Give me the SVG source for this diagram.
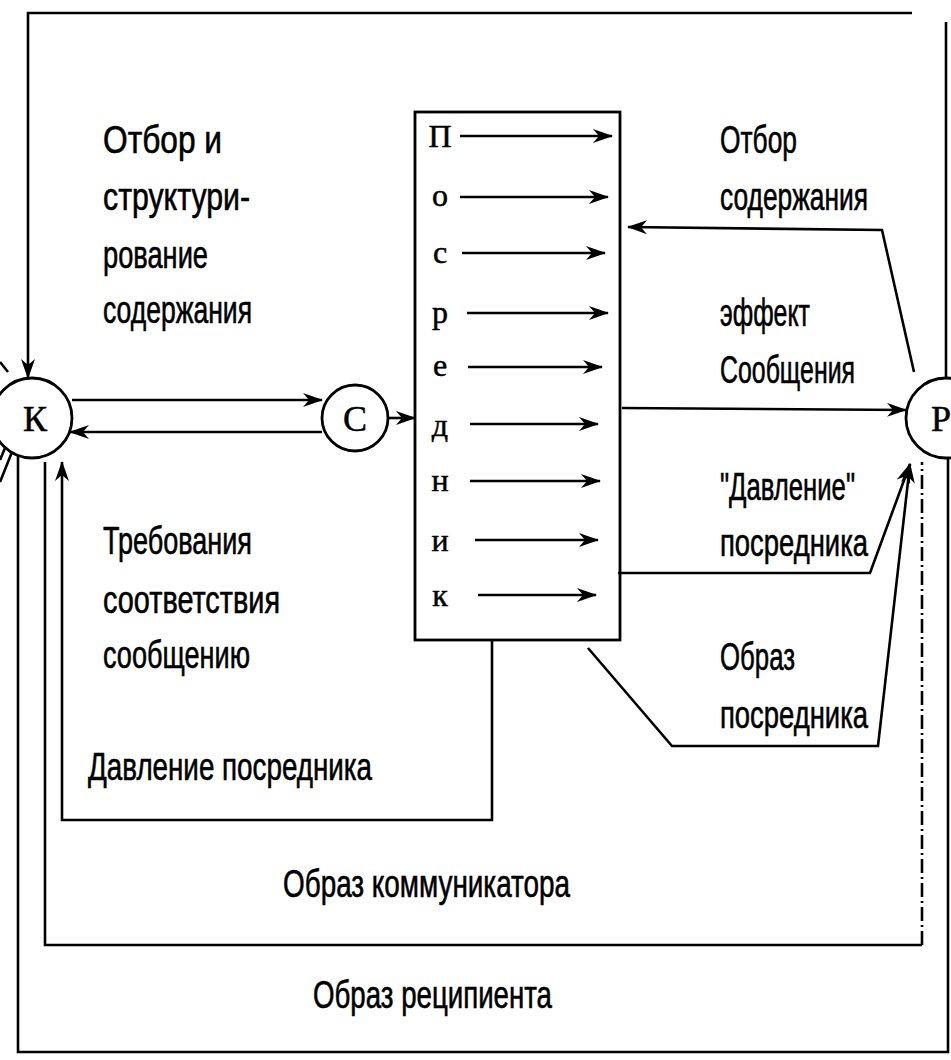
<svg xmlns="http://www.w3.org/2000/svg" width="951" height="1060" viewBox="0 0 951 1060">
<style>
  .ln{fill:none;stroke:#000;stroke-width:2.6;stroke-linejoin:miter}
  .nd{fill:#fff;stroke:#000;stroke-width:2.8}
  .t{font-family:"Liberation Sans","DejaVu Sans",sans-serif;font-size:38px;fill:#000;stroke:#000;stroke-width:0.6}
  .bl{font-family:"Liberation Serif","DejaVu Serif",serif;font-size:32px;fill:#000;text-anchor:middle;stroke:#000;stroke-width:0.5}
  .cl{font-family:"Liberation Serif","DejaVu Serif",serif;font-size:36px;fill:#000;text-anchor:middle;stroke:#000;stroke-width:0.5}
  .dd{stroke-dasharray:14,4,2,4}
</style>
<defs>
  <marker id="ah" markerWidth="20" markerHeight="14" refX="19" refY="7" orient="auto" markerUnits="userSpaceOnUse">
    <path d="M0,0 L20,7 L0,14 L6,7 z" fill="#000"/>
  </marker>
</defs>
<rect width="951" height="1060" fill="#fff"/>

<g id="connectors">
  <path class="ln" d="M912,13 L28,13 L28,378" marker-end="url(#ah)"/>
  <path class="ln" d="M946,22 L946,378"/>
  <path class="ln" d="M72,400 L322,400" marker-end="url(#ah)"/>
  <path class="ln" d="M322,432 L70,432" marker-end="url(#ah)"/>
  <path class="ln" d="M389,418 L415,418" marker-end="url(#ah)"/>
  <path class="ln" d="M460,136 L612,136" marker-end="url(#ah)"/>
  <path class="ln" d="M460,197 L608,197" marker-end="url(#ah)"/>
  <path class="ln" d="M462,253 L605,253" marker-end="url(#ah)"/>
  <path class="ln" d="M467,313 L608,313" marker-end="url(#ah)"/>
  <path class="ln" d="M468,367 L602,367" marker-end="url(#ah)"/>
  <path class="ln" d="M470,424 L598,424" marker-end="url(#ah)"/>
  <path class="ln" d="M470,481 L600,481" marker-end="url(#ah)"/>
  <path class="ln" d="M475,540 L598,540" marker-end="url(#ah)"/>
  <path class="ln" d="M478,595 L596,595" marker-end="url(#ah)"/>
  <path class="ln" d="M914,372 L882,230 L628,227" marker-end="url(#ah)"/>
  <path class="ln" d="M622,408 L906,410" marker-end="url(#ah)"/>
  <path class="ln" d="M618,573 L870,573 L910,464" marker-end="url(#ah)"/>
  <path class="ln" d="M588,648 L672,746 L878,746 L910,464" marker-end="url(#ah)"/>
  <path class="ln" d="M492,640 L492,820 L62,820 L62,462" marker-end="url(#ah)"/>
  <path class="ln" d="M45,462 L45,945 L922,945"/>
  <path class="ln dd" d="M922,945 L922,462"/>
  <path class="ln" d="M18,456 L18,1052 L948,1052 L948,458"/>
  <path class="ln" d="M0,362 L8,372"/>
  <path class="ln" d="M12,452 L0,482"/>
  <path class="ln" d="M5,448 L0,460"/>
</g>

<g id="node-K">
  <circle class="nd" cx="32" cy="418" r="40"/>
  <text class="cl" x="35" y="431">К</text>
</g>
<g id="node-C">
  <circle class="nd" cx="355" cy="418" r="33"/>
  <text class="cl" x="355" y="431">С</text>
</g>
<g id="node-P">
  <circle class="nd" cx="946" cy="418" r="40"/>
  <text class="cl" x="941" y="431">Р</text>
</g>

<g id="node-posrednik">
  <rect x="415" y="112" width="205" height="528" fill="none" stroke="#000" stroke-width="2.8"/>
  <text class="bl" x="440" y="147">П</text>
  <text class="bl" x="440" y="206">о</text>
  <text class="bl" x="440" y="263">с</text>
  <text class="bl" x="440" y="323">р</text>
  <text class="bl" x="440" y="376">е</text>
  <text class="bl" x="440" y="436">д</text>
  <text class="bl" x="440" y="491">н</text>
  <text class="bl" x="440" y="551">и</text>
  <text class="bl" x="440" y="606">к</text>
</g>

<g id="labels">
  <text class="t" x="103" y="153" textLength="119" lengthAdjust="spacingAndGlyphs">Отбор и</text>
  <text class="t" x="103" y="210" textLength="147" lengthAdjust="spacingAndGlyphs">структури-</text>
  <text class="t" x="103" y="268" textLength="105" lengthAdjust="spacingAndGlyphs">рование</text>
  <text class="t" x="103" y="323" textLength="149" lengthAdjust="spacingAndGlyphs">содержания</text>

  <text class="t" x="103" y="554" textLength="149" lengthAdjust="spacingAndGlyphs">Требования</text>
  <text class="t" x="103" y="613" textLength="177" lengthAdjust="spacingAndGlyphs">соответствия</text>
  <text class="t" x="103" y="668" textLength="147" lengthAdjust="spacingAndGlyphs">сообщению</text>

  <text class="t" x="88" y="780" textLength="284" lengthAdjust="spacingAndGlyphs">Давление посредника</text>
  <text class="t" x="283" y="897" textLength="287" lengthAdjust="spacingAndGlyphs">Образ коммуникатора</text>
  <text class="t" x="313" y="1008" textLength="239" lengthAdjust="spacingAndGlyphs">Образ реципиента</text>

  <text class="t" x="720" y="153" textLength="77" lengthAdjust="spacingAndGlyphs">Отбор</text>
  <text class="t" x="720" y="210" textLength="148" lengthAdjust="spacingAndGlyphs">содержания</text>
  <text class="t" x="720" y="326" textLength="90" lengthAdjust="spacingAndGlyphs">эффект</text>
  <text class="t" x="720" y="383" textLength="135" lengthAdjust="spacingAndGlyphs">Сообщения</text>
  <text class="t" x="720" y="500" textLength="135" lengthAdjust="spacingAndGlyphs">"Давление"</text>
  <text class="t" x="720" y="556" textLength="148" lengthAdjust="spacingAndGlyphs">посредника</text>
  <text class="t" x="720" y="670" textLength="75" lengthAdjust="spacingAndGlyphs">Образ</text>
  <text class="t" x="720" y="728" textLength="148" lengthAdjust="spacingAndGlyphs">посредника</text>
</g>
</svg>
